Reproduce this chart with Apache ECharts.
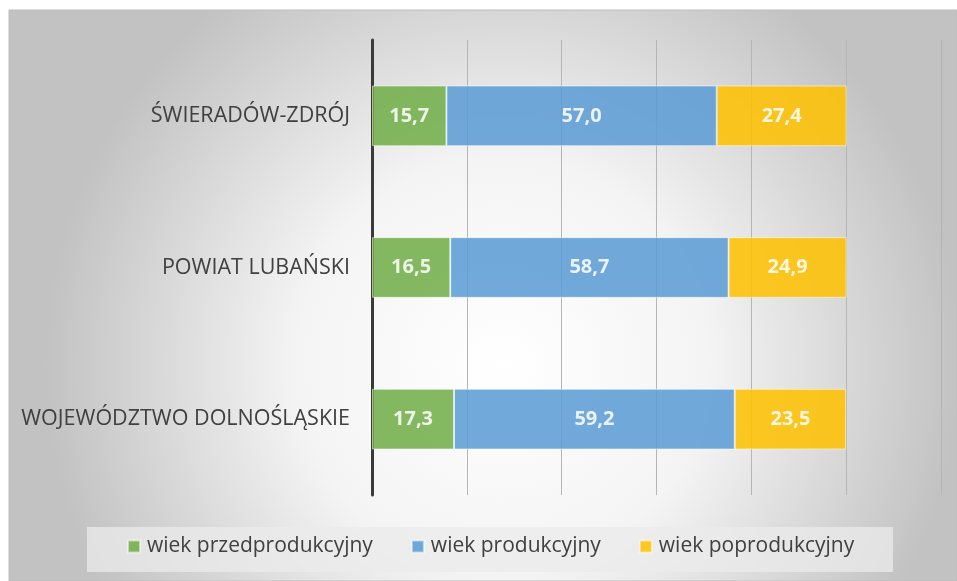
<!DOCTYPE html>
<html><head><meta charset="utf-8">
<script src="https://cdn.jsdelivr.net/npm/echarts@6/dist/echarts.min.js"></script>
<style>html,body{margin:0;padding:0;background:#fff}#c{width:957px;height:581px}</style>
</head><body><div id="c"></div>
<script>
const categories = ['ŚWIERADÓW-ZDRÓJ', 'POWIAT LUBAŃSKI', 'WOJEWÓDZTWO DOLNOŚLĄSKIE'];
const seriesNames = ['wiek przedprodukcyjny', 'wiek produkcyjny', 'wiek poprodukcyjny'];
const przed = [15.7, 16.5, 17.3];
const prod = [57.0, 58.7, 59.2];
const po = [27.4, 24.9, 23.5];
const colors = ['#70AD47', '#5B9BD5', '#FFC000'];

const font = 'Open Sans';
const chart = echarts.init(document.getElementById('c'));
function mk(name, data, color) {
  return {
    name: name, type: 'bar', stack: 'a', data: data, barCategoryGap: '60%',
    itemStyle: { color: color, opacity: 0.86, borderColor: 'rgba(255,255,255,0.6)', borderWidth: 1 },
    label: { show: true, position: 'inside', color: '#fff', fontWeight: 'bold', fontSize: 20, fontFamily: font,
      formatter: p => p.value.toFixed(1).replace('.', ',') },
    emphasis: { disabled: true }
  };
}
chart.setOption({
  animation: false,
  graphic: [
    { type: 'rect', z: -10, shape: { x: 9, y: 10, width: 948, height: 571 },
      style: { fill: new echarts.graphic.RadialGradient(0.52, 0.62, 0.8, [
        { offset: 0, color: '#ffffff' }, { offset: 0.45, color: '#f4f4f4' }, { offset: 1, color: '#c2c2c2' }]),
        stroke: '#bdbdbd', lineWidth: 1 } },
    { type: 'rect', z: -9, shape: { x: 87, y: 527, width: 806, height: 45 },
      style: { fill: 'rgba(235,235,235,0.75)' } }
  ],
  grid: { left: 372, right: 16, top: 40, bottom: 86, containLabel: false },
  legend: {
    data: seriesNames, bottom: 19, left: 122, itemWidth: 12, itemHeight: 12, itemGap: 38,
    icon: 'rect', textStyle: { fontSize: 21, color: '#404040', fontFamily: font, padding: [0, 0, 0, 2] }
  },
  xAxis: { type: 'value', min: 0, max: 120, interval: 20,
    axisLine: { show: false }, axisTick: { show: false }, axisLabel: { show: false },
    splitLine: { lineStyle: { color: '#b5b5b5', width: 1 } } },
  yAxis: { type: 'category', data: categories, inverse: true,
    axisLine: { show: true, lineStyle: { color: '#3a3a3a', width: 3 } }, axisTick: { show: false },
    axisLabel: { color: '#404040', fontSize: 21.5, fontFamily: font, margin: 22 } },
  series: [mk(seriesNames[0], przed, colors[0]), mk(seriesNames[1], prod, colors[1]), mk(seriesNames[2], po, colors[2])]
});
</script></body></html>
